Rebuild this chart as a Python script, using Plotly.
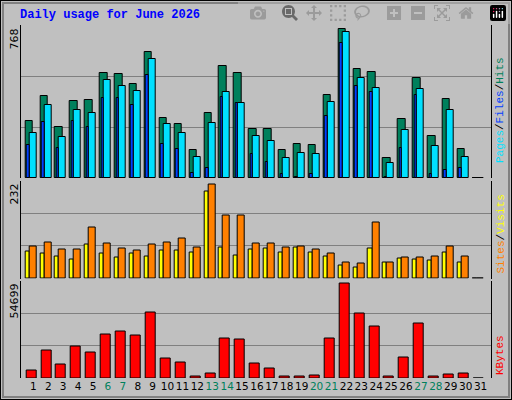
import plotly.graph_objects as go

days = list(range(1, 32))
hits = [286,412,255,387,392,529,524,473,635,301,270,139,326,564,529,245,245,139,169,164,417,747,549,534,98,296,504,210,397,144,0]
files = [225,367,204,341,326,493,463,438,595,270,225,103,275,433,377,210,184,98,128,123,382,732,504,453,73,240,448,159,341,103,0]
pages = [164,281,149,286,255,402,402,367,519,169,144,27,52,407,377,118,78,22,7,22,311,676,463,433,7,149,417,22,42,52,0]
visits = [75,85,68,68,121,83,71,66,80,85,95,73,222,150,150,83,83,73,75,68,59,37,35,133,39,49,49,51,75,51,0]
sites = [63,59,51,44,80,59,49,59,51,66,66,61,206,73,54,68,71,61,73,61,51,30,27,71,37,47,44,42,61,37,0]
kbytes = [4237,15216,7704,17527,14060,24460,26194,23883,36595,11171,8860,770,2504,22149,21571,8282,5393,770,770,1348,22149,52773,36017,29083,770,11749,30817,770,1926,2504,0]
weekend = [6,7,13,14,20,21,27,28]
max_hits, max_visits, max_kb = 768, 232, 54699

W, H = 512, 400
def px(x): return x / W
def py(y): return 1 - y / H

fig = go.Figure()
line = dict(color="black", width=1)
def bar(y, color, off, w, ax):
    fig.add_trace(go.Bar(x=days, y=y, offset=off, width=w, marker=dict(color=color, line=line),
                         xaxis="x", yaxis=ax, showlegend=False, hoverinfo="skip"))

bar(hits, "#00805c", -0.54, 0.5, "y")
bar(files, "#00e0ff", -0.27, 0.47, "y")
bar(pages, "#0040ff", -0.44, 0.17, "y")
bar(sites, "#ffff00", -0.54, 0.27, "y2")
bar(visits, "#ff8000", -0.27, 0.47, "y2")
bar(kbytes, "#ff0000", -0.47, 0.67, "y3")

ticktext = [f'<span style="color:{"#00805c" if d in weekend else "black"}">{d}</span>' for d in days]
font = dict(family="DejaVu Sans", size=11, color="black")
yax = dict(showticklabels=False, ticks="", showgrid=True, gridcolor="#808080", gridwidth=1,
           showline=True, linecolor="black", linewidth=1, mirror=True, zeroline=False, fixedrange=True)
fig.update_layout(
    width=W, height=H, margin=dict(l=0, r=0, t=0, b=0),
    paper_bgcolor="#C0C0C0", plot_bgcolor="#C0C0C0", barmode="overlay", bargap=0,
    font=font,
    xaxis=dict(domain=[px(20.7), px(491)], range=[0.15, 31.7], anchor="y3",
               tickvals=days, ticktext=ticktext, ticks="", showgrid=False, zeroline=False,
               showline=False, tickangle=0, tickfont=dict(size=10.5), automargin=False),
    yaxis=dict(domain=[py(178), py(25)], range=[0, max_hits], dtick=max_hits/3, **yax),
    yaxis2=dict(domain=[py(278.5), py(180.5)], range=[0, max_visits], dtick=max_visits/3, **yax),
    yaxis3=dict(domain=[py(378), py(280.5)], range=[0, max_kb], dtick=max_kb/3, **yax),
)

mono = "Liberation Mono"
anns = [
    dict(x=px(18), y=py(15), text="<b>Daily usage for June 2026</b>", xanchor="left", yanchor="middle",
         font=dict(family=mono, size=12, color="#0000ff")),
    dict(x=px(14), y=py(27), text=str(max_hits), textangle=-90, xanchor="center", yanchor="top"),
    dict(x=px(14), y=py(182), text=str(max_visits), textangle=-90, xanchor="center", yanchor="top"),
    dict(x=px(14), y=py(282), text=str(max_kb), textangle=-90, xanchor="center", yanchor="top"),
    dict(x=px(500), y=py(165), textangle=-90, xanchor="center", yanchor="bottom", font=dict(family=mono, size=11),
         text='<span style="color:#00e0ff">Pages</span>/<span style="color:#0040ff">Files</span>/<span style="color:#00805c">Hits</span>'),
    dict(x=px(500), y=py(276), textangle=-90, xanchor="center", yanchor="bottom", font=dict(family=mono, size=11),
         text='<span style="color:#ff8000">Sites</span>/<span style="color:#ffff00">Visits</span>'),
    dict(x=px(500), y=py(377), textangle=-90, xanchor="center", yanchor="bottom", font=dict(family=mono, size=11),
         text='<span style="color:#ff0000">KBytes</span>'),
]
for a in anns:
    a.update(xref="paper", yref="paper", showarrow=False)
    a.setdefault("font", font)
    fig.add_annotation(**a)

shapes = [
    dict(x0=0, x1=1, y0=0, y1=1, line=dict(color="black", width=2)),
    dict(x0=px(3), x1=px(509), y0=py(397), y1=py(3), line=dict(color="#808080", width=2)),
]
for s in shapes:
    fig.add_shape(type="rect", xref="paper", yref="paper", fillcolor="rgba(0,0,0,0)", **s)

fig.write_html("out.html", post_script="document.body.style.margin='0';document.body.style.overflow='hidden';")
